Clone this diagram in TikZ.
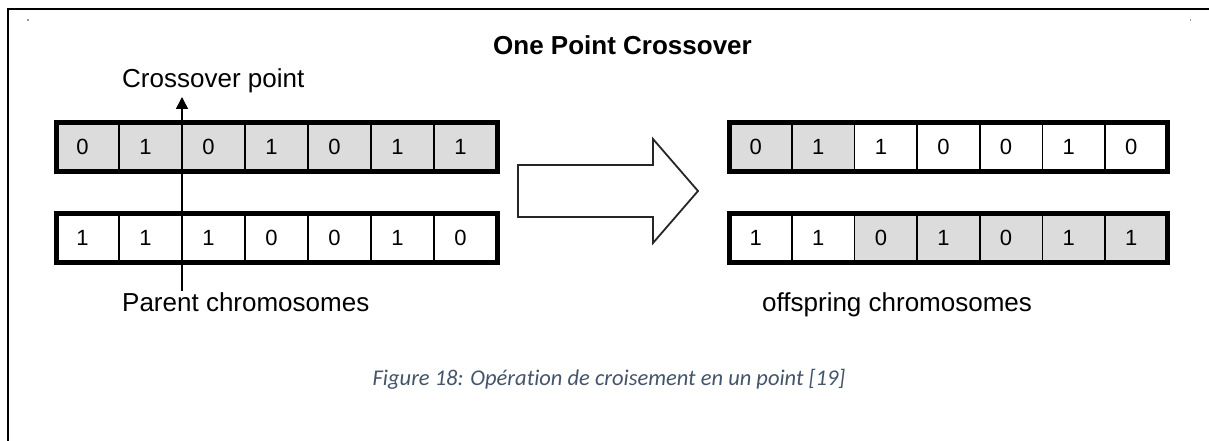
\documentclass[tikz,border=0pt]{standalone}
\usepackage{fontspec}
\setmainfont{Liberation Sans}
\newfontfamily\captionfont[Ligatures=NoCommon]{Carlito}
\usetikzlibrary{arrows.meta}
\definecolor{genefill}{HTML}{DCDCDC}
\definecolor{capblue}{HTML}{44546A}

% one chromosome: prefix, left x, top y, cell width, list of digit/style pairs
\newcommand\generow[5]{%
  \foreach \d/\s [count=\i] in {#5}
    \node[\s, minimum width=#4pt] (#1\i) at ({#2+(\i-1)*#4},#3) {\kern-10pt\d};
  \draw[rowframe] (#11.north west) rectangle (#17.south east);
}

\begin{document}
\begin{tikzpicture}[x=1pt,y=-1pt,
  gene/.style={draw=black, line width=1.6pt, minimum height=48.5pt,
    inner sep=0pt, outer sep=0pt, anchor=north west,
    font=\fontsize{22}{22}\selectfont},
  hot/.style={gene, fill=genefill},
  cold/.style={gene, fill=white},
  rowframe/.style={draw=black, line width=5pt, line join=miter},
  tag/.style={font=\fontsize{26}{26}\selectfont, inner sep=0pt, anchor=base west},
  pointer/.style={line width=1.5pt, -{Triangle[length=12pt,width=12pt]}},
  bigarrow/.style={draw=black!85, line width=1.8pt, fill=white, line join=miter}]

\useasboundingbox (0,0) rectangle (1209,441);

% page frame and specks
\draw[line width=2pt] (7.5,441) -- (7.5,9.5) -- (1209,9.5);
\fill[black!40] (27,19.5) rectangle +(1.5,1.5);
\fill[black!40] (1189.5,19.5) rectangle +(1.5,1.5);

% title
\node[font=\bfseries\fontsize{26}{26}\selectfont, inner sep=0pt, anchor=base west]
  (title) at (493,55) {One Point Crossover};

% parent chromosomes
\generow{pa}{56}{123}{63}{0/hot,1/hot,0/hot,1/hot,0/hot,1/hot,1/hot}
\generow{pb}{56}{213.5}{63}{1/cold,1/cold,1/cold,0/cold,0/cold,1/cold,0/cold}

% offspring chromosomes
\generow{oa}{729.5}{123}{62.57}{0/hot,1/hot,1/cold,0/cold,0/cold,1/cold,0/cold}
\generow{ob}{729.5}{213.5}{62.57}{1/cold,1/cold,0/hot,1/hot,0/hot,1/hot,1/hot}

% labels
\node[tag] (cp) at (122,88) {Crossover point};
\node[tag] (pc) at (122,311) {Parent chromosomes};
\node[tag] (oc) at (762,311) {offspring chromosomes};

% crossover point marker
\coordinate (cpfoot) at (182,291);
\coordinate (cptip) at (182,97);
\draw[pointer] (cpfoot) -- (cptip);

% transformation arrow
\draw[bigarrow] (518,165) -- (653,165) -- (653,139) -- (698,191)
  -- (653,243) -- (653,217) -- (518,217) -- cycle;

% caption
\node[font=\captionfont\itshape\fontsize{22.5}{22.5}\selectfont, text=capblue, inner sep=0pt,
  anchor=base] (cap) at (609,385) {Figure 18: Opération de croisement en un point [19]};
\end{tikzpicture}
\end{document}
